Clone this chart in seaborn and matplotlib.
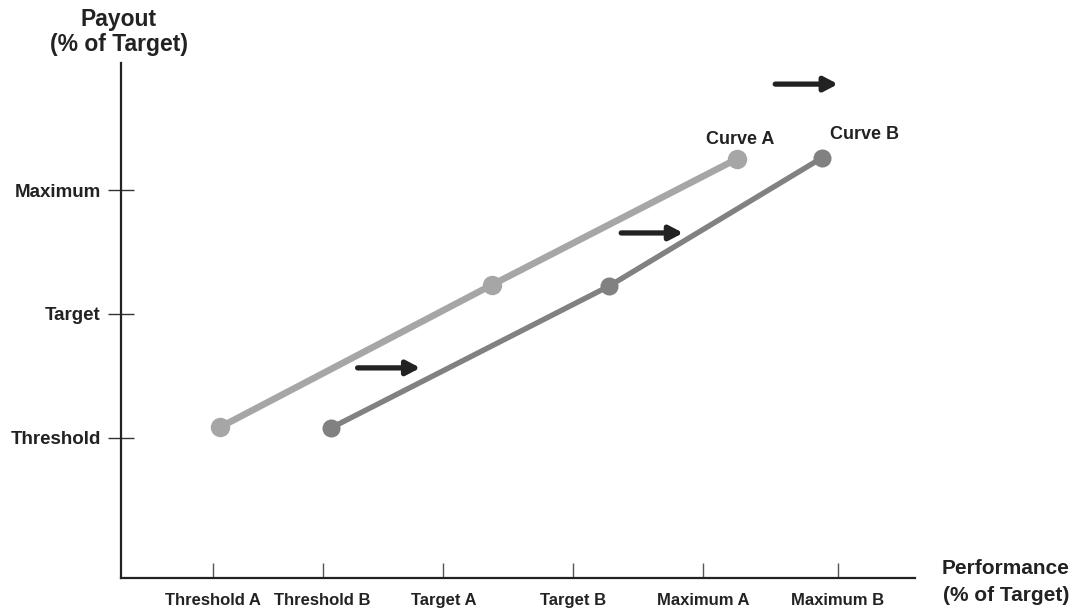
import matplotlib
matplotlib.use("Agg")
import matplotlib.pyplot as plt
import seaborn as sns
import pandas as pd

sns.set_style("white")
plt.rcParams["font.family"] = ["Liberation Sans", "DejaVu Sans"]
plt.rcParams["font.weight"] = "bold"

# Performance axis (percent of axis width) and payout axis (percent of axis height)
x_tick_pos = [11.6, 25.4, 40.6, 56.9, 73.3, 90.3]
x_tick_labels = ["Threshold A", "Threshold B", "Target A", "Target B", "Maximum A", "Maximum B"]
y_tick_pos = [27.2, 51.3, 75.3]
y_tick_labels = ["Threshold", "Target", "Maximum"]

curve_a_x = [12.5, 46.7, 77.6]
curve_a_y = [29.3, 56.9, 81.4]
curve_b_x = [26.4, 61.5, 88.3]
curve_b_y = [29.1, 56.7, 81.6]

# Shift arrows: (x start, x end, y)
arrows = [(29.8, 37.7, 40.8), (63.0, 70.8, 67.0), (82.4, 90.3, 95.9)]

color_a = "#a6a6a6"
color_b = "#818181"
ink = "#222222"

fig = plt.figure(figsize=(10.72, 6.14), dpi=100)
ax = fig.add_axes([121 / 1072, 36 / 614, 794 / 1072, 515 / 614])

df_a = pd.DataFrame({"perf": curve_a_x, "payout": curve_a_y})
df_b = pd.DataFrame({"perf": curve_b_x, "payout": curve_b_y})
sns.lineplot(data=df_a, x="perf", y="payout", ax=ax, color=color_a, linewidth=4.8,
             marker="o", markersize=14, markeredgewidth=0, sort=False)
sns.lineplot(data=df_b, x="perf", y="payout", ax=ax, color=color_b, linewidth=3.9,
             marker="o", markersize=13, markeredgewidth=0, sort=False)

ax.set_xlim(0, 100)
ax.set_ylim(0, 100)
ax.set_xlabel("")
ax.set_ylabel("")

ax.set_xticks(x_tick_pos)
ax.set_xticklabels(x_tick_labels, fontsize=12, fontweight="bold", color=ink)
ax.set_yticks(y_tick_pos)
ax.set_yticklabels(y_tick_labels, fontsize=13.5, fontweight="bold", color=ink)
ax.tick_params(axis="x", bottom=True, direction="in", length=11, width=1,
               color="#555555", pad=11)
ax.tick_params(axis="y", left=True, direction="inout", length=19, width=1,
               color="#333333", pad=5)

for side in ("top", "right"):
    ax.spines[side].set_visible(False)
for side in ("left", "bottom"):
    ax.spines[side].set_color(ink)
    ax.spines[side].set_linewidth(1.6)

for x0, x1, y in arrows:
    ax.annotate("", xy=(x1, y), xytext=(x0, y),
                arrowprops=dict(arrowstyle="-|>,head_length=0.8,head_width=0.42",
                                lw=3.8, color=ink, shrinkA=0, shrinkB=0,
                                mutation_scale=10))

ax.text(78.0, 85.2, "Curve A", fontsize=13, fontweight="bold", color=ink,
        ha="center", va="center")
ax.text(93.6, 86.2, "Curve B", fontsize=13, fontweight="bold", color=ink,
        ha="center", va="center")

fig.text(119 / 1072, 1 - 32 / 614, "Payout\n(% of Target)", fontsize=16.5,
         fontweight="bold", color=ink, ha="center", va="center", linespacing=1.15)
fig.text(1006 / 1072, 1 - 582 / 614, "Performance\n(% of Target)", fontsize=15,
         fontweight="bold", color=ink, ha="center", va="center", linespacing=1.5)

fig.savefig("out.png", dpi=100)
